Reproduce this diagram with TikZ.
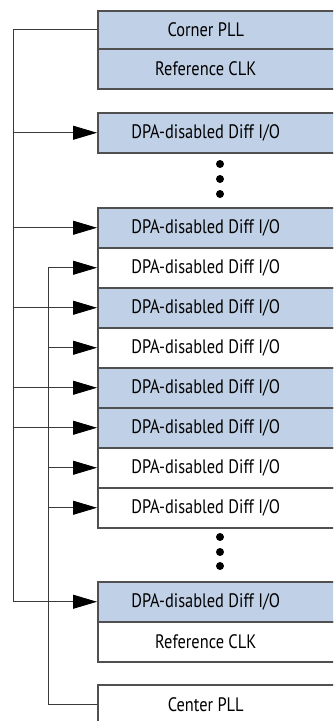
\documentclass[tikz,border=0pt]{standalone}
\usepackage{fontspec}
\setmainfont{PT Sans}[FakeStretch=0.84]
\usepackage{tikz}
\usetikzlibrary{arrows.meta}
\definecolor{pllblue}{HTML}{C0D0E6}
\definecolor{boxedge}{HTML}{505050}
\definecolor{wire}{HTML}{3A3A3A}

\begin{document}
\begin{tikzpicture}[x=1pt,y=-1pt,
    iobox/.style={draw=boxedge,line width=1.5pt,rectangle,anchor=north west,
      minimum height=40pt,inner xsep=0pt,inner ysep=0pt,font=\fontsize{19.5}{22}\selectfont,
      execute at begin node={\hbox to 216pt\bgroup\hss},
      execute at end node={\hss\egroup\kern60pt}},
    fed/.style={iobox,fill=pllblue},
    wireline/.style={draw=wire,line width=0.9pt},
    feed/.style={wireline,-{Triangle[length=24pt,width=14pt,black]}}]

      \useasboundingbox (0,0) rectangle (333,721);
      \clip (0,0) rectangle (333,721);

      % top: corner PLL and its reference clock
      \node[fed,minimum height=38pt] (cpll) at (97,10) {Corner PLL};
      \node[fed] (rclka) at (97,48) {Reference CLK};

      \node[fed] (io1) at (97,112) {DPA-disabled Diff I/O};
      \fill (220,164) circle (4);
      \fill (220,179) circle (4);
      \fill (220,194) circle (4);

      \node[fed] (io2) at (97,207) {DPA-disabled Diff I/O};
      \node[iobox] (io3) at (97,247) {DPA-disabled Diff I/O};
      \node[fed] (io4) at (97,287) {DPA-disabled Diff I/O};
      \node[iobox] (io5) at (97,327) {DPA-disabled Diff I/O};
      \node[fed] (io6) at (97,367) {DPA-disabled Diff I/O};
      \node[fed] (io7) at (97,407) {DPA-disabled Diff I/O};
      \node[iobox] (io8) at (97,447) {DPA-disabled Diff I/O};
      \node[iobox] (io9) at (97,487) {DPA-disabled Diff I/O};
      \fill (220,537) circle (4);
      \fill (220,552) circle (4);
      \fill (220,566) circle (4);

      % bottom: center PLL side
      \node[fed] (io10) at (97,581) {DPA-disabled Diff I/O};
      \node[iobox] (rclkb) at (97,621) {Reference CLK};
      \node[iobox] (ctpll) at (97,684) {Center PLL};

      \coordinate (busa) at (13,0);
      \coordinate (busb) at (48,0);

      % corner PLL feeds
      \draw[wireline] (cpll.west) -- (busa |- cpll.west) -- (busa |- io10.west);
      \foreach \n in {io1,io2,io4,io6,io7,io10}
        \draw[feed] (busa |- \n.west) -- (\n.west);

      % center PLL feeds
      \draw[wireline] (ctpll.west) -- (busb |- ctpll.west) -- (busb |- io3.west);
      \foreach \n in {io3,io5,io8,io9}
        \draw[feed] (busb |- \n.west) -- (\n.west);

    \end{tikzpicture}
\end{document}
